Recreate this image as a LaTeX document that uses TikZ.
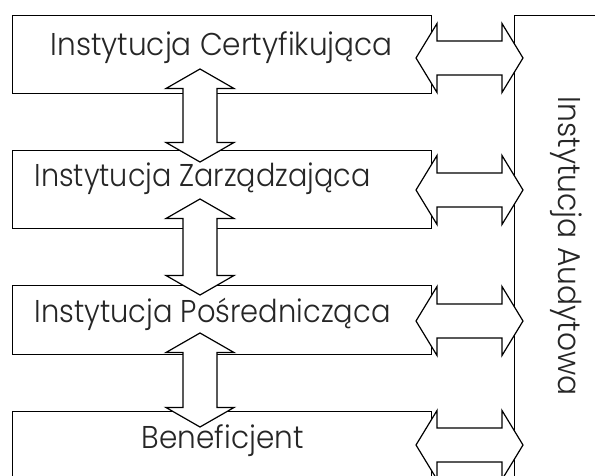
\documentclass[tikz,border=0pt]{standalone}
\usepackage{fontspec}
\setmainfont{Poppins}[UprightFont={* Light}]
\usepackage{graphicx}
\newcommand\fitw[2]{\resizebox{#1}{\height}{#2}}
% vertical double arrow: centre x, top tip y, bottom tip y
\newcommand\varr[3]{%
  \draw[dblarrow] (#1,#2) -- (#1+34,#2+19.5) -- (#1+17,#2+19.5) -- (#1+17,#3-19.5)
    -- (#1+34,#3-19.5) -- (#1,#3) -- (#1-34,#3-19.5) -- (#1-17,#3-19.5)
    -- (#1-17,#2+19.5) -- (#1-34,#2+19.5) -- cycle;}
% horizontal double arrow: centre y
\newcommand\harr[1]{%
  \draw[dblarrow] (416,#1) -- (437,#1-34.5) -- (437,#1-17) -- (502,#1-17)
    -- (502,#1-34.5) -- (523,#1) -- (502,#1+34.5) -- (502,#1+17)
    -- (437,#1+17) -- (437,#1+34.5) -- cycle;}
\begin{document}
\begin{tikzpicture}[x=1pt,y=-1pt,line width=1.2pt,
  box/.style={draw=black,fill=white,rectangle,inner sep=0pt,anchor=north west},
  lbl/.style={anchor=base west,inner sep=0pt,font=\fontsize{31.5}{36}\selectfont,text=black!85},
  dblarrow/.style={draw=black,fill=white,line join=miter}]
\useasboundingbox (0,0) rectangle (595,476);
\clip (0,0) rectangle (595,476);
% boxes
\node[box,minimum width=419pt,minimum height=78pt] (ic) at (12,15) {};
\node[box,minimum width=419pt,minimum height=78pt] (iz) at (12,150) {};
\node[box,minimum width=419pt,minimum height=69pt] (ip) at (12,285) {};
\node[box,minimum width=419pt,minimum height=100pt] (ben) at (12,411) {};
\node[box,minimum width=120pt,minimum height=500pt] (ia) at (514,15) {};
% vertical arrows
\varr{200}{69}{162}
\varr{200}{199}{295}
\varr{200}{333}{427}
% horizontal arrows
\harr{58}
\harr{190}
\harr{321}
\harr{445}
% labels
\node[lbl] (tc) at (50,56) {\fitw{342pt}{Instytucja Certyfikująca}};
\node[lbl] (tz) at (34,187) {\fitw{336pt}{Instytucja Zarządzająca}};
\node[lbl] (tp) at (34,323) {\fitw{356pt}{Instytucja Pośrednicząca}};
\node[lbl] (tb) at (141,448) {\fitw{162pt}{Beneficjent}};
\node[lbl,rotate=-90] (ta) at (558,96) {\fitw{299pt}{Instytucja Audytowa}};
\end{tikzpicture}
\end{document}
